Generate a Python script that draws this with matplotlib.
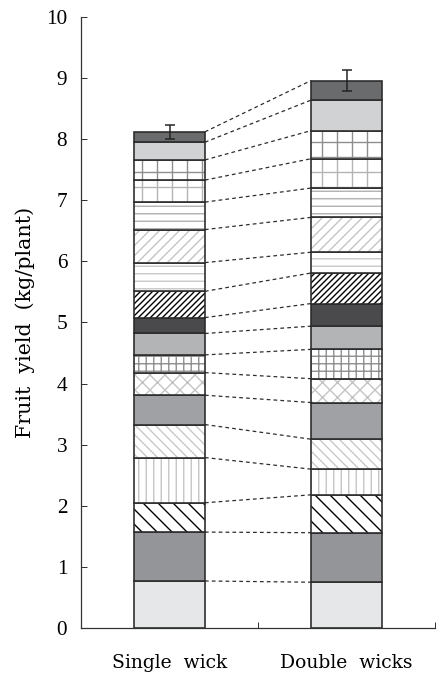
import numpy as np
import matplotlib
matplotlib.use("Agg")
import matplotlib.pyplot as plt

# ==========================================
# FRUIT YIELD BY HARVEST, SINGLE vs DOUBLE WICK
# ==========================================

plt.rcParams['font.family'] = ['DejaVu Serif']
plt.rcParams['hatch.linewidth'] = 1.1

treatments = ["Single  wick", "Double  wicks"]

# yield of each harvest (kg/plant), bottom to top
single_wick = [0.77, 0.80, 0.48, 0.74, 0.54, 0.48, 0.37, 0.29, 0.35,
               0.26, 0.43, 0.47, 0.54, 0.45, 0.36, 0.33, 0.29, 0.17]
double_wicks = [0.75, 0.81, 0.62, 0.42, 0.49, 0.60, 0.39, 0.48, 0.38,
                0.37, 0.50, 0.34, 0.57, 0.48, 0.48, 0.46, 0.50, 0.32]

# standard error of the total yield
total_err = [0.12, 0.17]

y_ticks = list(range(0, 11))

# fill colour, hatch, hatch colour for every harvest
styles = [
    ('#e6e7e8', '', 'none'),
    ('#939598', '', 'none'),
    ('white', '\\\\', 'black'),
    ('white', '||', '#c4c4c4'),
    ('white', '\\\\\\', '#c8c8c8'),
    ('#a0a1a4', '', 'none'),
    ('white', 'xx', '#c4c4c4'),
    ('white', '++', '#8e8e8e'),
    ('#b3b4b6', '', 'none'),
    ('#4a4a4c', '', 'none'),
    ('white', '/////', 'black'),
    ('white', '--', '#c8c8c8'),
    ('white', '///', '#c4c4c4'),
    ('white', '--', '#b0b0b0'),
    ('white', '+', '#b4b4b4'),
    ('white', '+', '#8e8e8e'),
    ('#d1d2d4', '', 'none'),
    ('#6a6b6d', '', 'none'),
]

x = np.array([0.5, 1.5])
width = 0.4

fig = plt.figure(figsize=(439 / 90, 678 / 90), dpi=90)
ax = fig.add_axes([0.1845, 0.0737, 0.8065, 0.9013])

data = np.array([single_wick, double_wicks])
bottoms = np.zeros(2)
tops = []
for i in range(data.shape[1]):
    fc, hatch, hc = styles[i]
    # hatch layer
    ax.bar(x, data[:, i], width, bottom=bottoms, color=fc,
           edgecolor=hc if hatch else fc, hatch=hatch, linewidth=0)
    # outline layer
    ax.bar(x, data[:, i], width, bottom=bottoms, fill=False,
           edgecolor='#2b2b2b', linewidth=1.3)
    bottoms = bottoms + data[:, i]
    tops.append(bottoms.copy())

# dashed lines joining the matching harvests
for t in tops:
    ax.plot([x[0] + width / 2, x[1] - width / 2], [t[0], t[1]],
            linestyle=(0, (3, 2.5)), color='#2e2e2e', linewidth=1.0)

ax.errorbar(x, bottoms, yerr=total_err, fmt='none', ecolor='#222222',
            elinewidth=1.2, capsize=4, capthick=1.2)

ax.set_xlim(0, 2)
ax.set_ylim(0, 10)
ax.set_yticks(y_ticks)
ax.set_yticklabels([str(v) for v in y_ticks], fontsize=17,
                   family=['Liberation Serif'])
ax.set_xticks([0, 1, 2])
ax.set_xticklabels([])
ax.set_xticks(x, minor=True)
ax.set_xticklabels(treatments, minor=True, fontsize=15)
ax.tick_params(axis='x', which='major', direction='in', length=5, color='#333333')
ax.tick_params(axis='x', which='minor', length=0, pad=21)
ax.tick_params(axis='y', direction='in', length=5, pad=11, color='#333333')
ax.set_ylabel("Fruit  yield  (kg/plant)", fontsize=16.5, labelpad=9)

for side in ['top', 'right']:
    ax.spines[side].set_visible(False)
for side in ['left', 'bottom']:
    ax.spines[side].set_color('#333333')
    ax.spines[side].set_linewidth(1.0)

plt.savefig("out.png", dpi=90)
